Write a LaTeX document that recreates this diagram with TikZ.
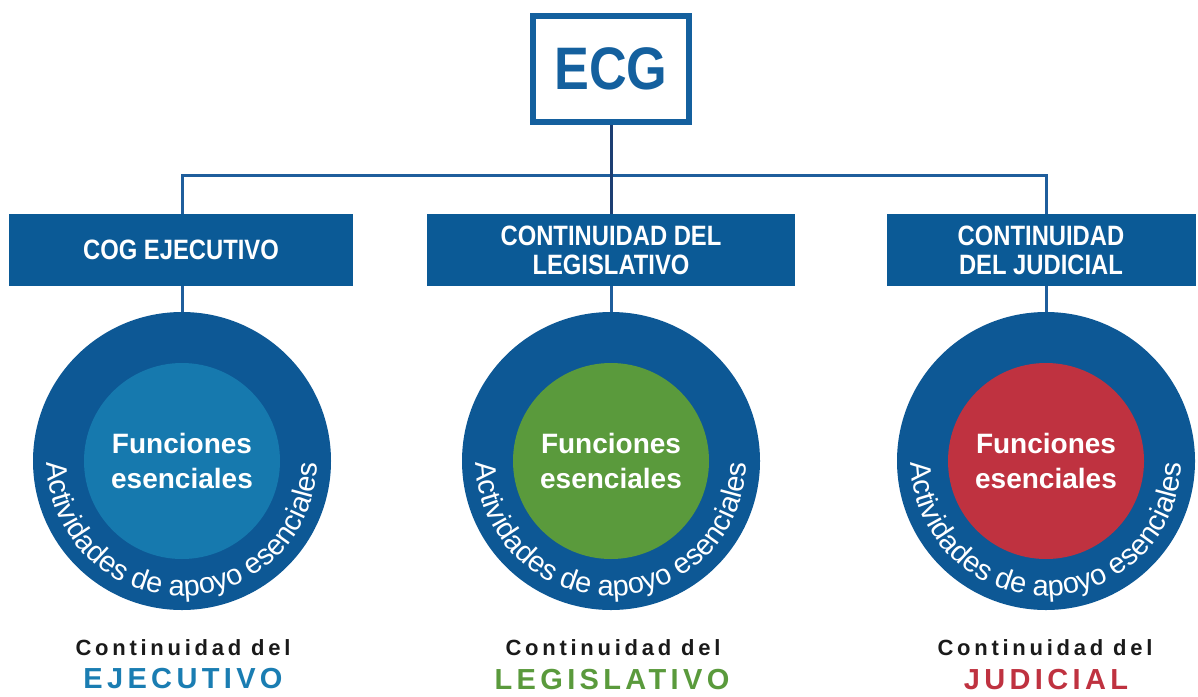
\documentclass[tikz,border=0pt]{standalone}
\usepackage{fontspec}
\setmainfont{Liberation Sans}
\newfontfamily\condfont{Liberation Sans}[FakeStretch=0.85]
\newfontfamily\ecgfont{Liberation Sans}[FakeStretch=0.87]
\usepackage{tikz}
\usetikzlibrary{positioning,decorations.text}
\definecolor{ecgblue}{HTML}{14609E}
\definecolor{boxblue}{HTML}{0B5A96}
\definecolor{ringblue}{HTML}{0D5895}
\definecolor{linkblue}{HTML}{1F5E9C}
\definecolor{navy}{HTML}{1C3E72}
\definecolor{ejecblue}{HTML}{1679AE}
\definecolor{legisgreen}{HTML}{5A9A3C}
\definecolor{judred}{HTML}{BF3240}
\definecolor{ejectext}{HTML}{1A7DB2}
\definecolor{captiongray}{HTML}{1A1A1A}
\newcommand\apoyofont{\fontsize{29}{29}\selectfont}

\begin{document}
\begin{tikzpicture}[x=1pt,y=1pt,semithick]
  \tikzstyle{branch}=[rectangle,fill=boxblue,text=white,inner sep=0pt,minimum height=72pt,align=center,font=\condfont\bfseries\fontsize{28}{29}\selectfont]
  \tikzstyle{ring}=[circle,fill=ringblue,minimum size=298pt,inner sep=0pt]
  \tikzstyle{core}=[circle,minimum size=196pt,inner sep=0pt,text=white,align=center,font=\bfseries\fontsize{28}{35}\selectfont]
  \tikzstyle{link}=[draw=linkblue,line width=3pt]
  \tikzstyle{caption}=[anchor=base,inner sep=0pt,text=captiongray,font=\bfseries\fontsize{22}{22}\selectfont\addfontfeatures{LetterSpace=17}]
  \tikzstyle{branchname}=[anchor=base,inner sep=0pt,font=\bfseries\fontsize{29}{29}\selectfont\addfontfeatures{LetterSpace=15}]
  \tikzstyle{apoyo}=[decorate,decoration={text along path,text align=center,text color=white,text={|\apoyofont|Actividades de apoyo esenciales}}]

  \useasboundingbox (0,0) rectangle (1198,-696);

  \node[draw=ecgblue,line width=6pt,fill=white,minimum width=156pt,minimum height=106pt,inner sep=0pt,text=ecgblue,font=\ecgfont\bfseries\fontsize{60}{60}\selectfont] (ECG) at (611,-69) {ECG};

  \node[ring] (RE) at (182,-461) {};
  \node[ring] (RL) at (611,-461) {};
  \node[ring] (RJ) at (1046,-461) {};
  \node[core,fill=ejecblue] (FE) at (RE) {Funciones\\esenciales};
  \node[core,fill=legisgreen] (FL) at (RL) {Funciones\\esenciales};
  \node[core,fill=judred] (FJ) at (RJ) {Funciones\\esenciales};

  \node[branch,minimum width=344pt] (CE) at (181,-250) {COG EJECUTIVO};
  \node[branch,minimum width=368pt] (CL) at (611,-250) {CONTINUIDAD DEL\\LEGISLATIVO};
  \node[branch,minimum width=309pt] (CJ) at (1041,-250) {CONTINUIDAD\\DEL JUDICIAL};

  \coordinate (bus) at (611,-175);
  \draw[link] (CE.north -| RE) |- (bus) -| (CJ.north -| RJ);
  \draw[link,draw=navy] (ECG.south) -- (CL.north);
  \draw[link] (CE.south -| RE) -- (RE.north);
  \draw[link] (CL.south -| RL) -- (RL.north);
  \draw[link] (CJ.south -| RJ) -- (RJ.north);

  \path[apoyo] (RE) ++(175:135) arc[start angle=175,end angle=365,radius=135];
  \path[apoyo] (RL) ++(175:135) arc[start angle=175,end angle=365,radius=135];
  \path[apoyo] (RJ) ++(175:135) arc[start angle=175,end angle=365,radius=135];

  \node[caption] (KE) at (183,-655) {Continuidad del};
  \node[caption] (KL) at (613,-655) {Continuidad del};
  \node[caption] (KJ) at (1045,-655) {Continuidad del};
  \node[branchname,text=ejectext] (NE) at (183,-688) {EJECUTIVO};
  \node[branchname,text=legisgreen] (NL) at (612,-689) {LEGISLATIVO};
  \node[branchname,text=judred] (NJ) at (1046,-689) {JUDICIAL};
\end{tikzpicture}
\end{document}
